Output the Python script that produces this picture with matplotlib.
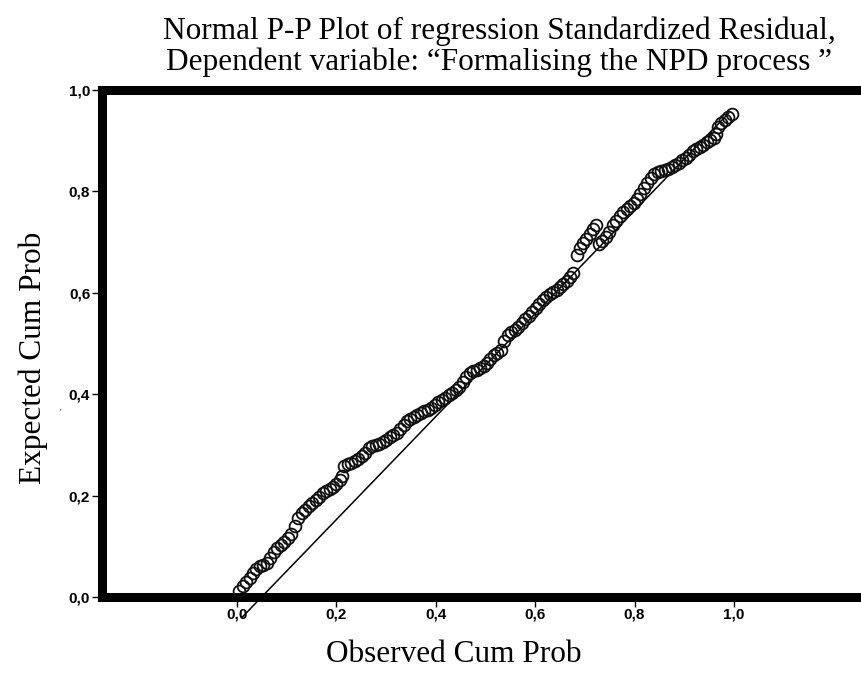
import matplotlib
matplotlib.use('Agg')
import matplotlib.pyplot as plt

# observed cumulative probability (x) and expected cumulative probability (y)
obs_prob = [0.004, 0.011, 0.018, 0.025, 0.032, 0.039, 0.046, 0.053, 0.060, 0.067,
            0.074, 0.081, 0.088, 0.095, 0.102, 0.109, 0.116, 0.123, 0.130, 0.137,
            0.144, 0.151, 0.158, 0.165, 0.172, 0.179, 0.186, 0.193, 0.200, 0.207,
            0.212,
            0.216, 0.223, 0.230, 0.237, 0.244, 0.251, 0.258, 0.265, 0.272, 0.279,
            0.286, 0.293, 0.300, 0.307, 0.314, 0.321, 0.328, 0.335, 0.342, 0.349,
            0.356, 0.363, 0.370, 0.377, 0.384, 0.391, 0.398, 0.405, 0.412, 0.419,
            0.426, 0.433, 0.440, 0.447, 0.454, 0.461, 0.468, 0.475, 0.482, 0.489,
            0.496, 0.503, 0.510, 0.517, 0.524, 0.531, 0.538, 0.545, 0.552, 0.559,
            0.566, 0.573, 0.580, 0.587, 0.594, 0.601, 0.608, 0.615, 0.622, 0.629,
            0.636, 0.643, 0.650, 0.657, 0.664, 0.671, 0.676,
            0.684, 0.690, 0.696, 0.703, 0.710, 0.716, 0.722,
            0.728, 0.735, 0.742, 0.749, 0.756, 0.763, 0.770, 0.777, 0.784, 0.791,
            0.798, 0.805, 0.812, 0.819, 0.826, 0.833, 0.840, 0.847, 0.854, 0.861,
            0.868, 0.875, 0.882, 0.889, 0.896, 0.903, 0.910, 0.917, 0.924, 0.931,
            0.938, 0.945, 0.952, 0.959, 0.964, 0.968, 0.975, 0.982, 0.989, 0.996]

exp_prob = [0.012, 0.022, 0.030, 0.038, 0.047, 0.056, 0.061, 0.064, 0.068, 0.077,
            0.088, 0.097, 0.103, 0.108, 0.116, 0.124, 0.140, 0.155, 0.166, 0.172,
            0.180, 0.186, 0.192, 0.198, 0.205, 0.209, 0.213, 0.217, 0.222, 0.230,
            0.238,
            0.259, 0.263, 0.265, 0.268, 0.272, 0.279, 0.285, 0.294, 0.298, 0.300,
            0.302, 0.305, 0.310, 0.316, 0.320, 0.324, 0.331, 0.339, 0.348, 0.352,
            0.355, 0.358, 0.362, 0.366, 0.369, 0.373, 0.378, 0.384, 0.389, 0.393,
            0.398, 0.403, 0.408, 0.414, 0.425, 0.434, 0.441, 0.445, 0.448, 0.452,
            0.456, 0.462, 0.470, 0.477, 0.482, 0.488, 0.505, 0.517, 0.522, 0.527,
            0.533, 0.540, 0.548, 0.555, 0.562, 0.570, 0.578, 0.585, 0.592, 0.597,
            0.601, 0.605, 0.611, 0.617, 0.624, 0.632, 0.639,
            0.675, 0.688, 0.698, 0.706, 0.716, 0.726, 0.734,
            0.697, 0.703, 0.711, 0.720, 0.733, 0.742, 0.751, 0.759, 0.765, 0.771,
            0.778, 0.786, 0.795, 0.806, 0.816, 0.826, 0.834, 0.838, 0.840, 0.842,
            0.845, 0.848, 0.852, 0.857, 0.862, 0.866, 0.872, 0.880, 0.884, 0.887,
            0.891, 0.897, 0.902, 0.906, 0.913, 0.928, 0.935, 0.940, 0.947, 0.953]

# reference line end points
ref_x = [0.010, 0.990]
ref_y = [-0.040, 0.955]

ticks = [0.0, 0.2, 0.4, 0.6, 0.8, 1.0]
tick_labels = ['0,0', '0,2', '0,4', '0,6', '0,8', '1,0']

title = ('Normal P-P Plot of regression Standardized Residual,\n'
         'Dependent variable: \u201cFormalising the NPD process \u201d')

fig = plt.figure(figsize=(8.62, 6.84), dpi=100)
ax = fig.add_axes([0.1183, 0.1272, 0.8910, 0.7412])

ax.plot(ref_x, ref_y, color='black', linewidth=1.1, clip_on=False, zorder=2)
ax.plot(obs_prob, exp_prob, linestyle='none', marker='o', markersize=8.5,
        markerfacecolor='none', markeredgecolor='#111111', markeredgewidth=1.3,
        clip_on=False, zorder=3)

ax.set_xlim(-0.272, 1.274)
ax.set_ylim(0.0, 1.0)

for side in ['left', 'top', 'bottom']:
    ax.spines[side].set_linewidth(6.5)
    ax.spines[side].set_color('black')
ax.spines['right'].set_visible(False)

ax.set_xticks(ticks)
ax.set_xticklabels(tick_labels)
ax.set_yticks(ticks)
ax.set_yticklabels(tick_labels)
ax.tick_params(axis='both', direction='out', length=7.5, width=1.0, pad=1,
               labelsize=11)
ax.tick_params(axis='x', pad=0)
for lab in ax.get_xticklabels() + ax.get_yticklabels():
    lab.set_fontfamily('Liberation Sans')
    lab.set_fontweight('bold')

serif = 'Liberation Serif'
fig.text(499 / 862, 1 - 47 / 684, title, ha='center', va='center',
         multialignment='center', family=serif, fontsize=22.5, linespacing=1.05)
fig.text(454 / 862, 1 - 655 / 684, 'Observed Cum Prob', ha='center', va='center',
         family=serif, fontsize=22.5)
fig.text(33 / 862, 1 - 358 / 684, 'Expected Cum Prob', ha='center', va='center',
         rotation=90, family=serif, fontsize=22.5)
fig.text(60 / 862, 1 - 412 / 684, "'", ha='center', va='center',
         family='Liberation Sans', fontsize=6)

fig.savefig('out.png', dpi=100)
